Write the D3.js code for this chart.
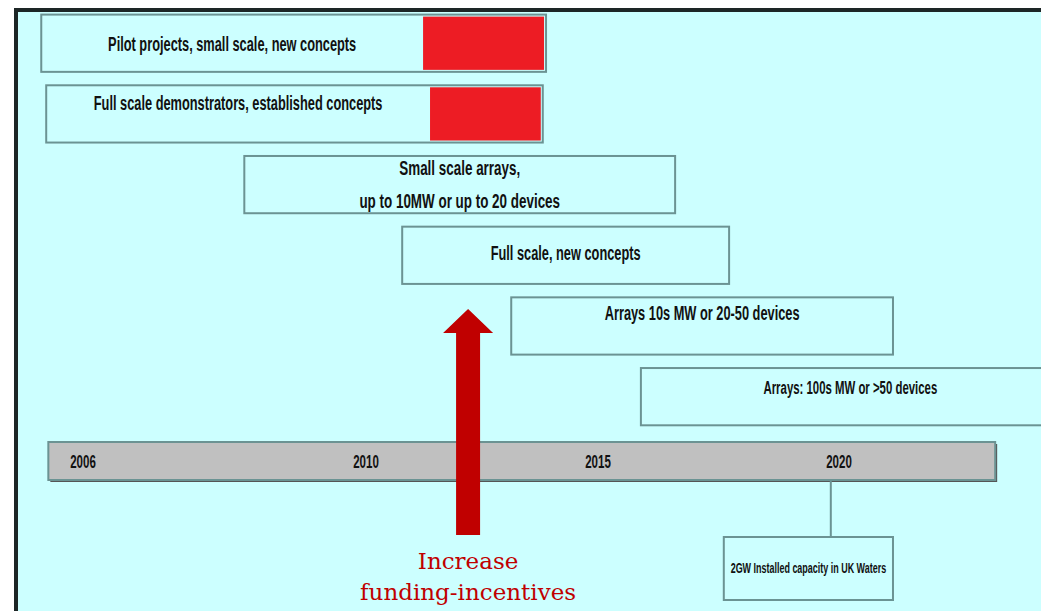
<!DOCTYPE html>
<html>
<head>
<meta charset="utf-8">
<script src="https://cdn.jsdelivr.net/npm/d3@7"></script>
<style>
  html, body { margin: 0; padding: 0; background: #ffffff; }
  svg { display: block; }
  .lbl { font-family: "Liberation Sans", Arial, sans-serif; font-weight: bold; fill: #111; }
</style>
</head>
<body>
<svg id="viz" width="1041" height="611"></svg>
<script>
// === DATA ===
const tickYears = [2006, 2010, 2015, 2020];
const phaseNames = [
  ["Pilot projects, small scale, new concepts"],
  ["Full scale demonstrators, established concepts"],
  ["Small scale arrays,", "up to 10MW or up to 20 devices"],
  ["Full scale, new concepts"],
  ["Arrays 10s MW or 20-50 devices"],
  ["Arrays: 100s MW or >50 devices"]
];
const phaseStart = [2005.41, 2005.48, 2008.28, 2010.78, 2013.13, 2015.89];
const phaseEnd   = [2013.88, 2013.81, 2016.60, 2017.72, 2021.12, 2024.58];
const fundedFrom = [2011.23, 2011.38, null, null, null, null];
const timelineSpan = [2005.51, 2023.24];
const milestoneYear = 2019.83;
const milestoneBox = [2017.61, 2021.12];
const milestoneText = "2GW Installed capacity in UK Waters";
const arrowYear = 2012.2;
const arrowText = ["Increase", "funding-incentives"];

// === LAYOUT ===
const svg = d3.select("#viz");
const cyan = "#ccffff";
const edge = "#6b9393";
const squeeze = 0.64; // the slide uses a condensed face, fake it

// the slide's time axis is not evenly spaced, so map each tick on its own
const x = d3.scaleLinear()
  .domain(tickYears)
  .range([83, 366, 598, 839]);

const rowKeys = phaseNames.map((d, i) => i);
const y = d3.scaleBand()
  .domain(rowKeys)
  .range([14.6, 425.3])
  .paddingInner(0.19);

// where the label sits inside each box (fraction of box height) and its size
const labelPos = [0.64, 0.44, 0.34, 0.58, 0.4, 0.45];
const labelSize = [20, 20, 21, 20, 20, 17.8];

function condensed(g, cx, cy, str, size) {
  g.append("text")
    .attr("class", "lbl")
    .attr("text-anchor", "middle")
    .attr("transform", `translate(${cx},${cy}) scale(${squeeze},1)`)
    .style("font-size", size + "px")
    .text(str);
}

// panel
svg.append("rect")
  .attr("x", 16).attr("y", 10)
  .attr("width", 1100).attr("height", 700)
  .attr("fill", cyan)
  .attr("stroke", "#1d2626")
  .attr("stroke-width", 4);

// === PHASE BOXES ===
const rows = svg.append("g").selectAll("g")
  .data(rowKeys)
  .enter()
  .append("g");

rows.append("rect")
  .attr("x", i => x(phaseStart[i]))
  .attr("y", i => y(i))
  .attr("width", i => x(phaseEnd[i]) - x(phaseStart[i]))
  .attr("height", y.bandwidth())
  .attr("fill", cyan)
  .attr("stroke", edge)
  .attr("stroke-width", 2);

rows.filter(i => fundedFrom[i] !== null)
  .append("rect")
  .attr("x", i => x(fundedFrom[i]))
  .attr("y", i => y(i) + 2)
  .attr("width", i => x(phaseEnd[i]) - x(fundedFrom[i]) - 2)
  .attr("height", y.bandwidth() - 4)
  .attr("fill", "#ed1c24");

rows.each(function (i) {
  const right = fundedFrom[i] !== null ? fundedFrom[i] : phaseEnd[i];
  const cx = (x(phaseStart[i]) + x(right)) / 2;
  phaseNames[i].forEach((line, k) => {
    condensed(d3.select(this), cx, y(i) + y.bandwidth() * labelPos[i] + k * 33, line, labelSize[i]);
  });
});

// === TIMELINE ===
const tl = svg.append("g");
tl.append("rect")
  .attr("x", x(timelineSpan[0]) + 2)
  .attr("y", 444)
  .attr("width", x(timelineSpan[1]) - x(timelineSpan[0]))
  .attr("height", 38)
  .attr("fill", "#555");
tl.append("rect")
  .attr("x", x(timelineSpan[0]))
  .attr("y", 442)
  .attr("width", x(timelineSpan[1]) - x(timelineSpan[0]))
  .attr("height", 38)
  .attr("fill", "#c0c0c0")
  .attr("stroke", edge)
  .attr("stroke-width", 2);

tickYears.forEach(d => condensed(tl, x(d), 468, d, 18));

// === MILESTONE ===
svg.append("line")
  .attr("x1", x(milestoneYear)).attr("x2", x(milestoneYear))
  .attr("y1", 481).attr("y2", 537)
  .attr("stroke", edge)
  .attr("stroke-width", 2);

svg.append("rect")
  .attr("x", x(milestoneBox[0]))
  .attr("y", 537)
  .attr("width", x(milestoneBox[1]) - x(milestoneBox[0]))
  .attr("height", 63)
  .attr("fill", cyan)
  .attr("stroke", edge)
  .attr("stroke-width", 2);

condensed(svg, (x(milestoneBox[0]) + x(milestoneBox[1])) / 2, 573, milestoneText, 14);

// === ARROW ===
const ax = x(arrowYear);
svg.append("path")
  .attr("d", d3.line()([
    [ax - 12, 535], [ax - 12, 333], [ax - 25, 333], [ax, 309],
    [ax + 25, 333], [ax + 12, 333], [ax + 12, 535]
  ]) + "Z")
  .attr("fill", "#c00000");

svg.append("g").selectAll("text")
  .data(arrowText)
  .enter()
  .append("text")
  .attr("x", ax)
  .attr("y", (d, i) => 569 + i * 31)
  .attr("text-anchor", "middle")
  .attr("fill", "#c00000")
  .style("font-family", "'DejaVu Serif', 'Liberation Serif', serif")
  .style("font-size", "23px")
  .text(d => d);
</script>
</body>
</html>
